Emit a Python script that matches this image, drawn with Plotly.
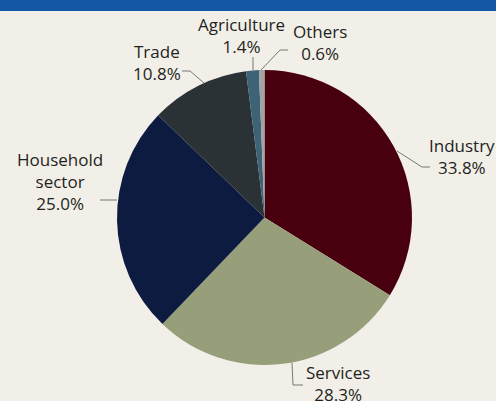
import plotly.graph_objects as go

# ---- data ----
sectors = ["Industry", "Services", "Household<br>sector", "Trade", "Agriculture", "Others"]
shares = [33.8, 28.3, 25.0, 10.8, 1.4, 0.6]
colors = ["#48000f", "#969f7a", "#0c1b3f", "#2a3236", "#3e6377", "#a3a3a3"]

# ---- layout constants (pixels) ----
W, H = 496, 401
CX, CY, R = 264.5, 217.5, 147.5
BG = "#f2efe9"

def px(x):
    return x / W

def py(y):
    return 1 - y / H

# label centre positions and leader paths, in pixels
label_pos = {
    "Industry": (462, 157),
    "Services": (338, 383),
    "Household<br>sector": (60, 181),
    "Trade": (157, 63),
    "Agriculture": (241, 35),
    "Others": (320, 42),
}
leaders = {
    "Industry": [(397, 151), (422, 167), (430, 167)],
    "Services": [(292, 363), (293, 385), (303, 385)],
    "Household<br>sector": [(100, 200), (117, 200)],
    "Trade": [(182, 71), (190, 71), (204, 83)],
    "Agriculture": [(253, 57), (253, 70)],
    "Others": [(261, 70), (280, 50), (288, 50)],
}

fig = go.Figure(go.Pie(
    labels=sectors,
    values=shares,
    sort=False,
    direction="clockwise",
    rotation=0,
    marker=dict(colors=colors, line=dict(width=0)),
    textinfo="none",
    showlegend=False,
    domain=dict(x=[px(CX - R), px(CX + R)], y=[py(CY + R), py(CY - R)]),
))

shapes = [dict(type="rect", xref="paper", yref="paper", x0=0, x1=1,
               y0=py(11), y1=1, fillcolor="#1357a5", line=dict(width=0), layer="above")]
for name, pts in leaders.items():
    path = "M " + " L ".join(f"{px(x)},{py(y)}" for x, y in pts)
    shapes.append(dict(type="path", xref="paper", yref="paper", path=path,
                       line=dict(color="#6a6a6a", width=0.9)))

annotations = []
for name, val in zip(sectors, shares):
    x, y = label_pos[name]
    annotations.append(dict(
        text=f"{name}<br>{val:.1f}%", x=px(x), y=py(y), xref="paper", yref="paper",
        showarrow=False, xanchor="center", yanchor="middle", align="center",
        font=dict(family="Open Sans", size=17, color="#231f20"),
    ))

fig.update_layout(
    width=W, height=H,
    margin=dict(l=0, r=0, t=0, b=0),
    paper_bgcolor=BG, plot_bgcolor=BG,
    shapes=shapes, annotations=annotations,
)

fig.write_html("out.html", config={"displayModeBar": False})

with open("out.html", encoding="utf-8") as f:
    html = f.read()
html = html.replace("<head>", "<head><style>html,body{margin:0;padding:0;overflow:hidden;}</style>", 1)
with open("out.html", "w", encoding="utf-8") as f:
    f.write(html)
